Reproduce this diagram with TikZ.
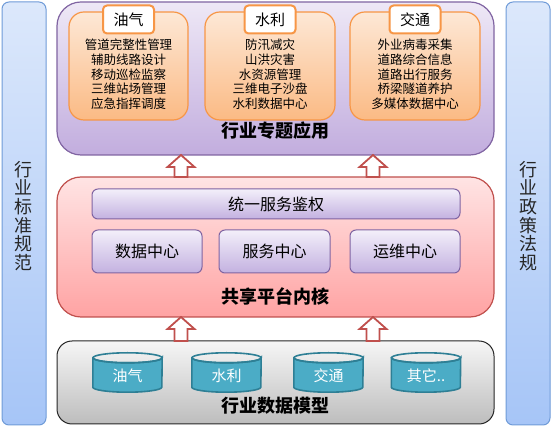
\documentclass[tikz,border=0pt]{standalone}
\usepackage{fontspec}
\setmainfont{Noto Sans CJK SC}
\usetikzlibrary{calc}
\definecolor{sideb}{HTML}{6F9BD8}
\definecolor{sidetop}{HTML}{DCE8FB}
\definecolor{sidebot}{HTML}{A6C5F7}
\definecolor{purpb}{HTML}{8064A2}
\definecolor{purptop}{HTML}{EEE8F6}
\definecolor{purpbot}{HTML}{C2ADDE}
\definecolor{orangeb}{HTML}{F79646}
\definecolor{orangetop}{HTML}{FDE8D6}
\definecolor{orangebot}{HTML}{FBBA84}
\definecolor{pinkb}{HTML}{C0504D}
\definecolor{pinktop}{HTML}{FFE4E4}
\definecolor{pinkbot}{HTML}{FFA3A3}
\definecolor{bartop}{HTML}{F3EFFA}
\definecolor{barbot}{HTML}{C3B1E0}
\definecolor{graytop}{HTML}{F6F6F6}
\definecolor{graybot}{HTML}{BDBDBD}
\definecolor{cylfill}{HTML}{4BACC6}
\definecolor{cylb}{HTML}{2E7F95}
\newcommand\hollowup[3]{\draw[blockarrow] (#1,#2) -- ++(13.5,12) -- ++(-7,0) -- ++(0,{#3-#2-12}) -- ++(-13,0) -- ++(0,{-(#3-#2-12)}) -- ++(-7,0) -- cycle;}
\newcommand\cylat[4]{%
  \node[cylnode] (#1) at (#2,#3) {};
  \path[cylshape] ($(#1.north west)+(0,5)$) -- ($(#1.south west)+(0,-5)$)
     arc[start angle=180, end angle=0, x radius=34.5, y radius=5]
     -- ($(#1.north east)+(0,5)$)
     arc[start angle=0, end angle=180, x radius=34.5, y radius=5] -- cycle;
  \draw[cylb, line width=1.6pt] ($(#1.north)+(0,5)$) ellipse [x radius=34.5, y radius=5];
  \node[cyltext] at ($(#1.center)+(0,3)$) {#4};}
\begin{document}
\begin{tikzpicture}[x=1pt,y=-1pt,
  sidebar/.style={draw=sideb, line width=1pt, rounded corners=7pt, top color=sidetop, bottom color=sidebot, minimum width=44pt, minimum height=423pt, inner sep=0pt},
  sidetext/.style={align=center, font=\fontsize{18}{18.6}\selectfont, text=black!85},
  bigpurple/.style={draw=purpb, line width=1.2pt, rounded corners=24pt, top color=purptop, bottom color=purpbot, minimum width=437pt, minimum height=153pt, inner sep=0pt},
  bigpink/.style={draw=pinkb, line width=1.2pt, rounded corners=24pt, top color=pinktop, bottom color=pinkbot, minimum width=437pt, minimum height=140pt, inner sep=0pt},
  biggray/.style={draw=black!85, line width=1pt, rounded corners=15pt, top color=graytop, bottom color=graybot, minimum width=437pt, minimum height=83pt, inner sep=0pt},
  orangebox/.style={draw=orangeb, line width=1.2pt, rounded corners=15pt, top color=orangetop, bottom color=orangebot, minimum height=108pt, inner sep=0pt},
  tabbox/.style={draw=orangeb, line width=2pt, fill=white, rounded corners=4pt, minimum width=51pt, minimum height=28pt, inner sep=0pt, font=\fontsize{15}{15}\selectfont},
  boxtext/.style={align=center, font=\fontsize{12.5}{14.7}\selectfont},
  title/.style={font=\fontsize{18}{18}\selectfont\bfseries},
  barbox/.style={draw=purpb, line width=1pt, rounded corners=6pt, top color=bartop, bottom color=barbot, minimum height=30pt, inner sep=0pt, font=\fontsize{16}{16}\selectfont},
  blockarrow/.style={draw=pinkb, line width=1.8pt, fill=white, line join=miter},
  cylnode/.style={minimum width=69pt, minimum height=39pt, inner sep=0pt},
  cylshape/.style={fill=cylfill, draw=cylb, line width=1.6pt},
  cyltext/.style={text=white, font=\fontsize{15}{15}\selectfont}
]
\useasboundingbox (0,0) rectangle (552,427);

% side bars
\node[sidebar] (lbar) at (24,213.5) {};
\node[sidetext] (ltext) at (24,216) {行\\业\\标\\准\\规\\范};
\node[sidebar] (rbar) at (528,213.5) {};
\node[sidetext] (rtext) at (528,216) {行\\业\\政\\策\\法\\规};

% top application layer
\node[bigpurple] (app) at (275.5,78.5) {};
\node[orangebox, minimum width=119pt] (oil) at (128.5,66) {};
\node[orangebox, minimum width=130pt] (water) at (270,66) {};
\node[orangebox, minimum width=130pt] (traffic) at (415,66) {};
\node[tabbox] (oiltab) at (128.5,19.5) {油气};
\node[tabbox] (watertab) at (270,19.5) {水利};
\node[tabbox] (traffictab) at (415,19.5) {交通};
\node[boxtext] (oiltext) at (128.5,74.5) {管道完整性管理\\辅助线路设计\\移动巡检监察\\三维站场管理\\应急指挥调度};
\node[boxtext] (watertext) at (270,74.5) {防汛减灾\\山洪灾害\\水资源管理\\三维电子沙盘\\水利数据中心};
\node[boxtext] (traffictext) at (415,74.5) {外业病毒采集\\道路综合信息\\道路出行服务\\桥梁隧道养护\\多媒体数据中心};
\node[title] (apptitle) at (275.5,131) {行业专题应用};

% shared platform kernel
\node[bigpink] (core) at (275.5,247) {};
\node[barbox, minimum width=368pt] (auth) at (276,204) {统一服务鉴权};
\node[barbox, minimum width=110pt, minimum height=43pt] (datac) at (147,251.5) {数据中心};
\node[barbox, minimum width=111pt, minimum height=43pt] (servc) at (274.5,251.5) {服务中心};
\node[barbox, minimum width=110pt, minimum height=43pt] (opsc) at (405,251.5) {运维中心};
\node[title] (coretitle) at (275.5,296) {共享平台内核};

% data model
\node[biggray] (model) at (275.5,382.5) {};
\cylat{c1}{127.5}{372.5}{油气}
\cylat{c2}{226.5}{372.5}{水利}
\cylat{c3}{328.5}{372.5}{交通}
\cylat{c4}{426}{372.5}{其它..}
\node[title] (modeltitle) at (275.5,406) {行业数据模型};

% hollow arrows
\hollowup{181}{155}{177}
\hollowup{373}{155}{177}
\hollowup{181}{317}{341}
\hollowup{373}{317}{341}
\end{tikzpicture}
\end{document}
